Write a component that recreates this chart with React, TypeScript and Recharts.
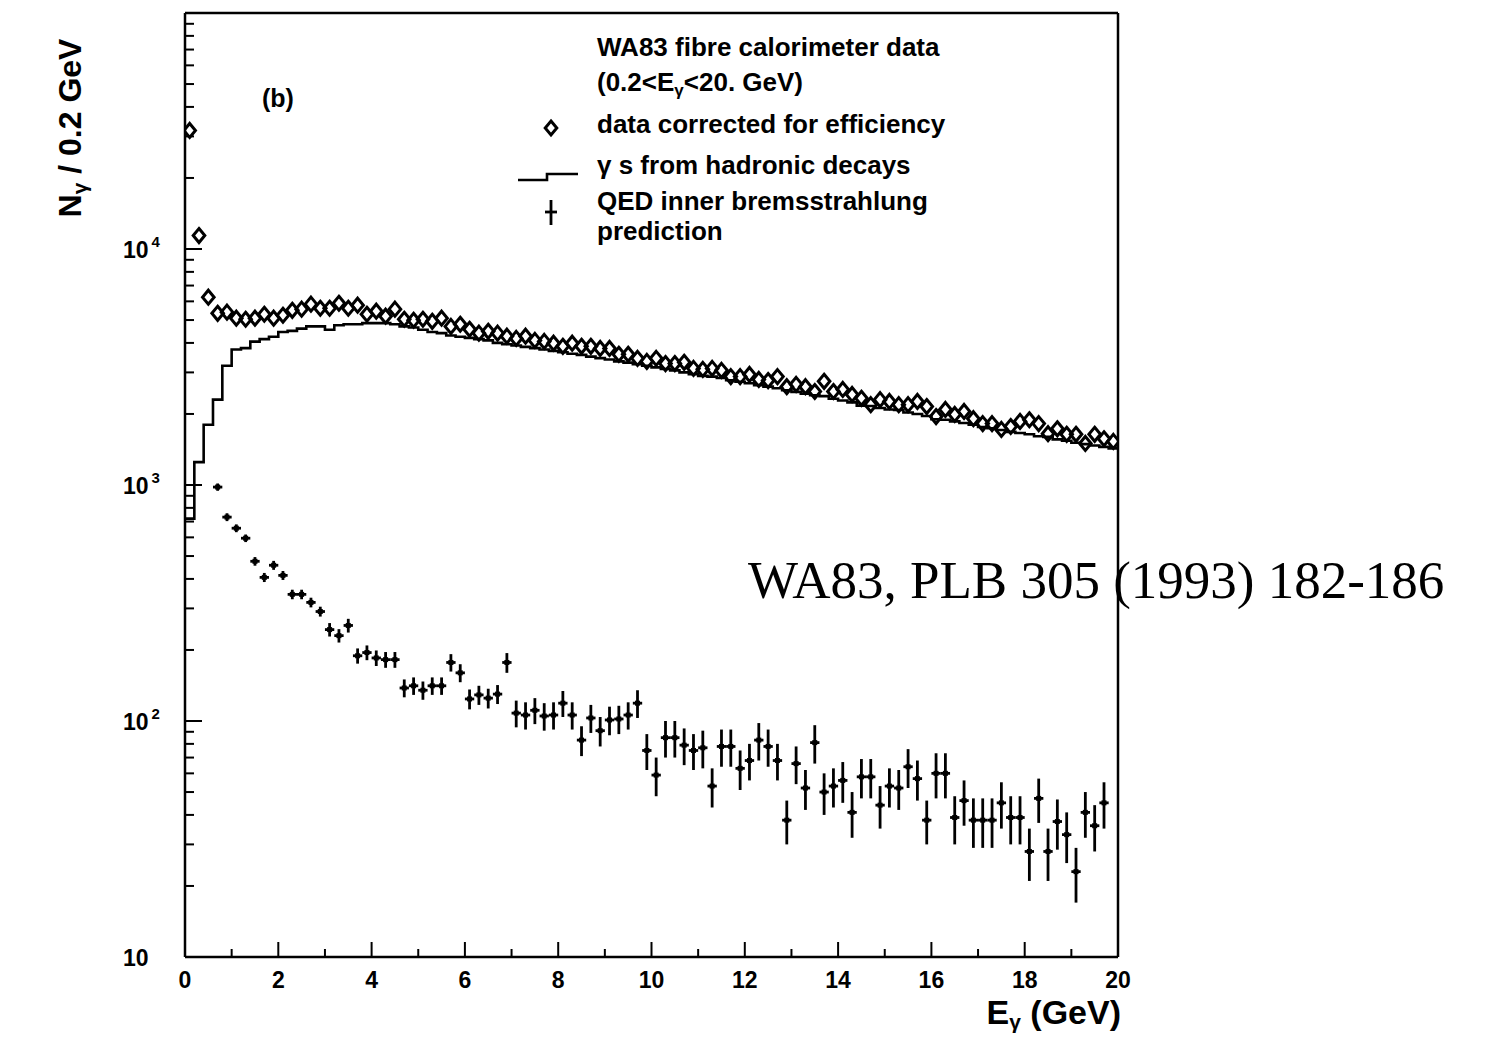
import React from 'react';
import { ComposedChart, Scatter, Line, XAxis, YAxis, ErrorBar } from 'recharts';

// ---------- data ----------
// bin centres (GeV), bin width 0.2 GeV
const E_CENTERS = [
  0.1, 0.3, 0.5, 0.7, 0.9, 1.1, 1.3, 1.5, 1.7, 1.9,
  2.1, 2.3, 2.5, 2.7, 2.9, 3.1, 3.3, 3.5, 3.7, 3.9,
  4.1, 4.3, 4.5, 4.7, 4.9, 5.1, 5.3, 5.5, 5.7, 5.9,
  6.1, 6.3, 6.5, 6.7, 6.9, 7.1, 7.3, 7.5, 7.7, 7.9,
  8.1, 8.3, 8.5, 8.7, 8.9, 9.1, 9.3, 9.5, 9.7, 9.9,
  10.1, 10.3, 10.5, 10.7, 10.9, 11.1, 11.3, 11.5, 11.7, 11.9,
  12.1, 12.3, 12.5, 12.7, 12.9, 13.1, 13.3, 13.5, 13.7, 13.9,
  14.1, 14.3, 14.5, 14.7, 14.9, 15.1, 15.3, 15.5, 15.7, 15.9,
  16.1, 16.3, 16.5, 16.7, 16.9, 17.1, 17.3, 17.5, 17.7, 17.9,
  18.1, 18.3, 18.5, 18.7, 18.9, 19.1, 19.3, 19.5, 19.7, 19.9,
];

// lower bin edges for the histogram (plus the closing edge)
const E_EDGES = [
  0.0, 0.2, 0.4, 0.6, 0.8, 1.0, 1.2, 1.4, 1.6, 1.8,
  2.0, 2.2, 2.4, 2.6, 2.8, 3.0, 3.2, 3.4, 3.6, 3.8,
  4.0, 4.2, 4.4, 4.6, 4.8, 5.0, 5.2, 5.4, 5.6, 5.8,
  6.0, 6.2, 6.4, 6.6, 6.8, 7.0, 7.2, 7.4, 7.6, 7.8,
  8.0, 8.2, 8.4, 8.6, 8.8, 9.0, 9.2, 9.4, 9.6, 9.8,
  10.0, 10.2, 10.4, 10.6, 10.8, 11.0, 11.2, 11.4, 11.6, 11.8,
  12.0, 12.2, 12.4, 12.6, 12.8, 13.0, 13.2, 13.4, 13.6, 13.8,
  14.0, 14.2, 14.4, 14.6, 14.8, 15.0, 15.2, 15.4, 15.6, 15.8,
  16.0, 16.2, 16.4, 16.6, 16.8, 17.0, 17.2, 17.4, 17.6, 17.8,
  18.0, 18.2, 18.4, 18.6, 18.8, 19.0, 19.2, 19.4, 19.6, 19.8,
  20.0,
];

// data corrected for efficiency (diamonds)
const DATA_CORRECTED = [
  31800, 11400, 6250, 5340, 5400, 5090, 5040, 5090, 5290, 5090,
  5240, 5500, 5560, 5840, 5610, 5610, 5890, 5610, 5780, 5290,
  5450, 5190, 5560, 5040, 4990, 5040, 4940, 5090, 4700, 4800,
  4570, 4400, 4480, 4400, 4270, 4180, 4270, 4100, 4060, 3990,
  3870, 3990, 3870, 3870, 3790, 3790, 3580, 3580, 3440, 3340,
  3440, 3270, 3270, 3310, 3120, 3090, 3120, 3060, 2880, 2880,
  2940, 2800, 2770, 2880, 2610, 2670, 2610, 2490, 2750, 2490,
  2540, 2420, 2330, 2190, 2300, 2260, 2190, 2190, 2260, 2150,
  1950, 2090, 1990, 2050, 1910, 1820, 1820, 1720, 1770, 1860,
  1890, 1820, 1650, 1730, 1640, 1640, 1500, 1640, 1570, 1530,
];

// gammas from hadronic decays (histogram, one value per bin)
const HADRONIC = [
  720, 1250, 1800, 2300, 3200, 3750, 3800, 4050, 4150, 4250,
  4450, 4500, 4600, 4700, 4700, 4550, 4750, 4800, 4800, 4850,
  4850, 4850, 4800, 4700, 4650, 4550, 4450, 4400, 4300, 4250,
  4200, 4150, 4100, 4000, 3950, 3900, 3850, 3800, 3750, 3700,
  3650, 3600, 3560, 3500, 3450, 3400, 3340, 3300, 3250, 3200,
  3150, 3100, 3060, 3000, 2950, 2900, 2880, 2840, 2780, 2740,
  2700, 2650, 2610, 2570, 2520, 2480, 2440, 2400, 2380, 2320,
  2280, 2240, 2170, 2160, 2120, 2090, 2080, 2030, 2000, 1960,
  1900, 1890, 1860, 1830, 1800, 1760, 1740, 1710, 1680, 1660,
  1640, 1610, 1600, 1560, 1540, 1510, 1490, 1470, 1450, 1430,
];

// QED inner bremsstrahlung prediction (crosses), bins 0.7 ... 19.7 GeV
const QED_E = E_CENTERS.slice(3, 99);
const QED = [
  980, 731, 656, 595, 475, 406, 457, 414, 344, 344,
  318, 291, 244, 230, 254, 189, 195, 185, 182, 182,
  138, 141, 135, 141, 141, 177, 160, 124, 129, 125,
  130, 177,
  108, 106, 111, 105, 106, 119, 106, 83, 103, 91,
  101, 102, 106, 119, 75, 59, 85, 85, 79, 75,
  77, 53, 78, 78, 63, 68, 83, 78, 68, 38,
  66, 52, 81, 50, 53, 56, 41, 58, 58, 44,
  53, 52, 64, 57, 38, 60, 60, 39, 46, 38,
  38, 38, 45, 39, 39, 28, 47, 28, 37.5, 33,
  23, 41, 36, 45,
];
const QED_ERR = [
  35, 28, 25, 22, 20, 18, 20, 18, 16, 16,
  15, 14, 16, 15, 17, 14, 14, 14, 14, 14,
  12, 12, 12, 12, 12, 15, 14, 12, 12, 12,
  12, 17,
  14, 14, 14, 14, 14, 15, 14, 12, 14, 13,
  14, 14, 14, 16, 13, 11, 15, 15, 14, 13,
  14, 10, 14, 14, 12, 12, 15, 14, 12, 8,
  12, 10, 15, 10, 10, 11, 9, 11, 11, 9,
  10, 10, 12, 11, 8, 13, 13, 9, 10, 9,
  9, 9, 10, 9, 9, 7, 10, 7, 9, 8,
  6, 9, 8, 10,
];
const HALF_BIN = 0.1;

const X_TICKS = [0, 1, 2, 3, 4, 5, 6, 7, 8, 9, 10, 11, 12, 13, 14, 15, 16, 17, 18, 19, 20];
const X_LABELS = ['0', '', '2', '', '4', '', '6', '', '8', '', '10', '', '12', '', '14', '', '16', '', '18', '', '20'];
const Y_TICKS = [
  10, 20, 30, 40, 50, 60, 70, 80, 90,
  100, 200, 300, 400, 500, 600, 700, 800, 900,
  1000, 2000, 3000, 4000, 5000, 6000, 7000, 8000, 9000,
  10000, 20000, 30000, 40000, 50000, 60000, 70000, 80000, 90000,
  100000,
];
const Y_MAJOR = [10, 100, 1000, 10000, 100000];
const Y_EXP = ['', '2', '3', '4', '5'];

// ---------- tables ----------
const diamondData = E_CENTERS.map((e, i) => ({ e, v: DATA_CORRECTED[i] }));
const histData = E_EDGES.map((e, i) => ({ e, v: HADRONIC[Math.min(i, HADRONIC.length - 1)] }));
const qedData = QED_E.map((e, i) => ({ e, v: QED[i], ey: QED_ERR[i], ex: HALF_BIN }));

// ---------- layout ----------
const W = 1506;
const H = 1040;
const TOP = 13;
const LEFT = 185;
const RIGHT_M = 388;
const X_AXIS_H = 83;
const PLOT_R = W - RIGHT_M;
const PLOT_B = H - X_AXIS_H;
const FONT = '"Liberation Sans", Arial, sans-serif';

const XTick = (props: any) => {
  const { x, y, payload } = props;
  const idx = X_TICKS.indexOf(payload.value);
  const label = X_LABELS[idx];
  const major = label !== '';
  return (
    <g>
      <line x1={x} y1={y} x2={x} y2={y - (major ? 15 : 8)} stroke="#000" strokeWidth={2} />
      {major && (
        <text x={x} y={y + 31} textAnchor="middle" fontFamily={FONT} fontWeight="bold" fontSize={23} fill="#000">
          {label}
        </text>
      )}
    </g>
  );
};

const YTick = (props: any) => {
  const { x, y, payload } = props;
  const mi = Y_MAJOR.indexOf(payload.value);
  const major = mi >= 0;
  if (payload.value === 100000) return <g />;
  return (
    <g>
      <line x1={x} y1={y} x2={x + (major ? 17 : 9)} y2={y} stroke="#000" strokeWidth={2} />
      {major && (
        <text x={x - 62} y={y + 9} textAnchor="start" fontFamily={FONT} fontWeight="bold" fontSize={23} fill="#000">
          10
          {Y_EXP[mi] !== '' && (
            <tspan dx={3} dy={-11} fontSize={15}>
              {Y_EXP[mi]}
            </tspan>
          )}
        </text>
      )}
    </g>
  );
};

const Diamond = (props: any) => {
  const { cx, cy } = props;
  if (cx == null || cy == null) return <g />;
  const w = 5.8;
  const h = 7;
  return (
    <polygon
      points={`${cx},${cy - h} ${cx + w},${cy} ${cx},${cy + h} ${cx - w},${cy}`}
      fill="none"
      stroke="#000"
      strokeWidth={3}
    />
  );
};

const CrossDot = (props: any) => {
  const { cx, cy } = props;
  if (cx == null || cy == null) return <g />;
  return <rect x={cx - 2.5} y={cy - 2.5} width={5} height={5} fill="#000" />;
};

export default function App() {
  return (
    <div style={{ position: 'absolute', left: 0, top: 0, width: W, height: H, background: '#fff' }}>
      <ComposedChart width={W} height={H} margin={{ top: TOP, right: RIGHT_M, bottom: 0, left: 0 }}>
        <XAxis
          type="number"
          dataKey="e"
          domain={[0, 20]}
          ticks={X_TICKS}
          interval={0}
          height={X_AXIS_H}
          tick={<XTick />}
          tickLine={false}
          tickSize={0}
          tickMargin={0}
          axisLine={{ stroke: '#000', strokeWidth: 2.5 }}
          allowDataOverflow
        />
        <YAxis
          type="number"
          dataKey="v"
          scale="log"
          domain={[10, 100000]}
          ticks={Y_TICKS}
          interval={0}
          width={LEFT}
          tick={<YTick />}
          tickLine={false}
          tickSize={0}
          tickMargin={0}
          axisLine={{ stroke: '#000', strokeWidth: 2.5 }}
          allowDataOverflow
        />
        <Line
          data={histData}
          dataKey="v"
          type="stepAfter"
          stroke="#000"
          strokeWidth={2.6}
          dot={false}
          activeDot={false}
          isAnimationActive={false}
        />
        <Scatter data={diamondData} dataKey="v" shape={<Diamond />} isAnimationActive={false} />
        <Scatter data={qedData} dataKey="v" shape={<CrossDot />} isAnimationActive={false}>
          <ErrorBar dataKey="ey" direction="y" width={0} stroke="#000" strokeWidth={2.8} />
          <ErrorBar dataKey="ex" direction="x" width={0} stroke="#000" strokeWidth={2.8} />
        </Scatter>
      </ComposedChart>

      <svg
        width={W}
        height={H}
        style={{ position: 'absolute', left: 0, top: 0, pointerEvents: 'none' }}
      >
        {/* frame: top and right sides */}
        <line x1={LEFT} y1={TOP} x2={PLOT_R} y2={TOP} stroke="#000" strokeWidth={2.5} />
        <line x1={PLOT_R} y1={TOP} x2={PLOT_R} y2={PLOT_B} stroke="#000" strokeWidth={2.5} />

        {/* axis titles */}
        <text
          transform="translate(81,128) rotate(-90)"
          textAnchor="middle"
          fontFamily={FONT}
          fontWeight="bold"
          fontSize={32}
          fill="#000"
        >
          N
          <tspan fontSize={21} dy={6}>γ</tspan>
          <tspan dy={-6}> / 0.2 GeV</tspan>
        </text>
        <text x={1121} y={1024} textAnchor="end" fontFamily={FONT} fontWeight="bold" fontSize={34} fill="#000">
          E
          <tspan fontSize={21} dy={5}>γ</tspan>
          <tspan dy={-5}> (GeV)</tspan>
        </text>

        {/* panel tag */}
        <text x={262} y={107} fontFamily={FONT} fontWeight="bold" fontSize={25} fill="#000">(b)</text>

        {/* legend */}
        <g fontFamily={FONT} fontWeight="bold" fontSize={26} fill="#000">
          <text x={597} y={56}>WA83 fibre calorimeter data</text>
          <text x={597} y={91}>
            (0.2&lt;E<tspan fontSize={17} dy={5}>γ</tspan>
            <tspan dy={-5}>&lt;20. GeV)</tspan>
          </text>
          <text x={597} y={133}>data corrected for efficiency</text>
          <text x={597} y={174}>γ s from hadronic decays</text>
          <text x={597} y={210}>QED inner bremsstrahlung</text>
          <text x={597} y={240}>prediction</text>
        </g>
        <polygon points="551,121 556.8,128 551,135 545.2,128" fill="none" stroke="#000" strokeWidth={3} />
        <polyline points="518,180 547,180 547,174 578,174" fill="none" stroke="#000" strokeWidth={2.6} />
        <line x1={551} y1={200} x2={551} y2={225} stroke="#000" strokeWidth={2.8} />
        <line x1={545} y1={212} x2={557} y2={212} stroke="#000" strokeWidth={2.8} />

        {/* reference annotation */}
        <text x={748} y={598} fontFamily='"Liberation Serif", "Times New Roman", serif' fontSize={53} fill="#000">
          WA83, PLB 305 (1993) 182-186
        </text>
      </svg>
    </div>
  );
}
